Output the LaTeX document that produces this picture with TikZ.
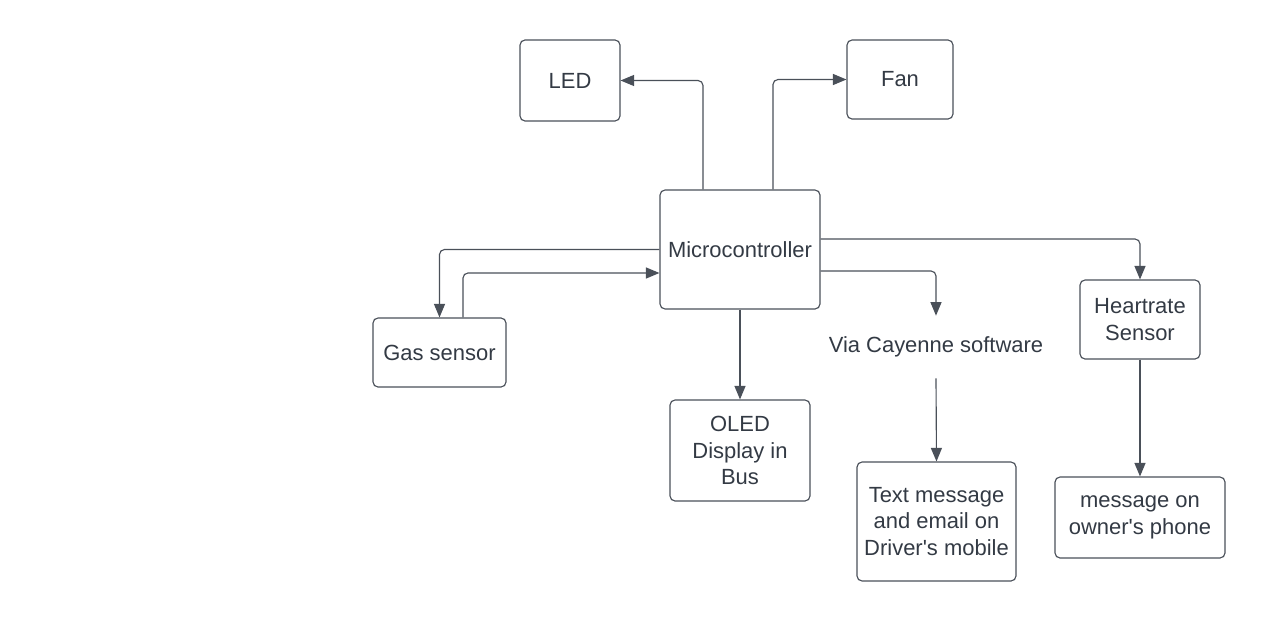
\documentclass[tikz,border=0pt]{standalone}
\usepackage{fontspec}
\setmainfont{Liberation Sans}[Ligatures=TeXOff]
\usetikzlibrary{arrows.meta}
\definecolor{ink}{HTML}{333A44}
\definecolor{edge}{HTML}{4A5059}
\tikzset{
  box/.style={draw=edge, line width=0.65pt, rounded corners=0.1cm, align=center, text=ink, font=\fontsize{12.5}{15}\selectfont, inner sep=0pt},
  plain/.style={align=center, text=ink, font=\fontsize{12.5}{15}\selectfont, inner sep=0pt},
  conn/.style={draw=edge, line width=0.65pt, rounded corners=0.1cm, -{Triangle[length=0.27cm,width=0.22cm]}}
}
\begin{document}
\begin{tikzpicture}[x=0.02cm,y=-0.02cm]
\useasboundingbox (0,0) rectangle (1265,622);
\node[box, minimum width=2cm, minimum height=1.62cm] (led) at (570,80.5) {LED};
\node[box, minimum width=2.12cm, minimum height=1.58cm] (fan) at (900,79.5) {Fan};
\node[box, minimum width=3.2cm, minimum height=2.38cm] (micro) at (740,249.5) {Microcontroller};
\node[box, minimum width=2.66cm, minimum height=1.38cm] (gas) at (439.5,352.5) {Gas sensor};
\node[box, minimum width=2.8cm, minimum height=2.02cm] (oled) at (740,450.5) {OLED\\Display in\\Bus};
\node[plain, minimum height=1.24cm] (via) at (936,347) {Via Cayenne software};
\node[box, minimum width=3.18cm, minimum height=2.38cm] (txt) at (936.5,521.5) {Text message\\and email on\\Driver's mobile};
\node[box, minimum width=2.4cm, minimum height=1.58cm] (heart) at (1140,319.5) {Heartrate\\Sensor};
\node[box, minimum width=3.4cm, minimum height=1.62cm] (owner) at (1140,517.5) {message on\\owner's phone};

\draw[conn] ([xshift=-0.74cm]micro.north) |- (led.east);
\draw[conn] ([xshift=0.66cm]micro.north) |- (fan.west);
\draw[conn] (micro.west) -| (gas.north);
\draw[conn] ([xshift=0.47cm]gas.north) |- ([yshift=-0.47cm]micro.west);
\draw[conn] (micro.south) -- (oled.north);
\draw[conn] ([yshift=0.21cm]micro.east) -| (heart.north);
\draw[conn] ([yshift=-0.43cm]micro.east) -| (via.north);
\draw[conn] (via.south) -- (txt.north);
\draw[conn] (heart.south) -- (owner.north);
\end{tikzpicture}
\end{document}
